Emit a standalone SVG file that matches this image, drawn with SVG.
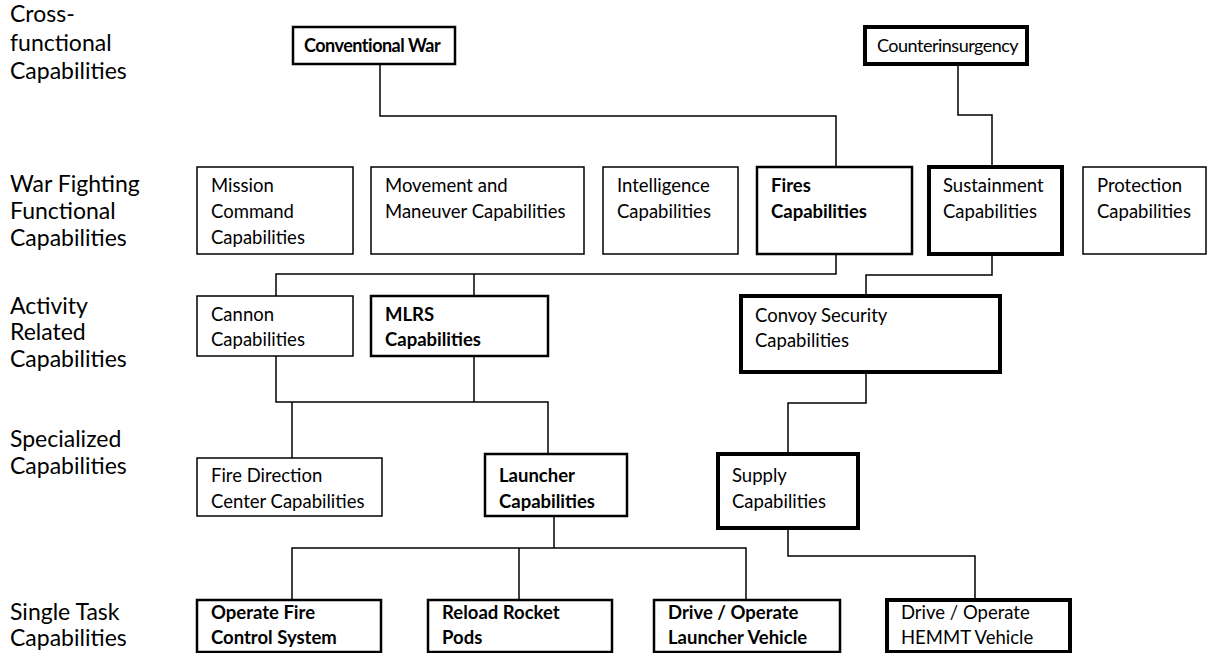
<svg xmlns="http://www.w3.org/2000/svg" width="1210" height="653" viewBox="0 0 1210 653">
  <style>
    .lbl { font-family: Lato, "Open Sans", sans-serif; font-size: 23px; fill: #000; }
    .t { font-family: Lato, "Open Sans", sans-serif; font-size: 18.5px; fill: #000; }
    .top { font-size: 18px; letter-spacing: -0.5px; }
    .b { font-weight: bold; }
    .box { fill: #fff; stroke: #000; }
    .thin { stroke-width: 1.5; }
    .mid { stroke-width: 2.5; }
    .heavy { stroke-width: 4; }
    .conn { fill: none; stroke: #000; stroke-width: 1.5; }
  </style>
  <rect width="1210" height="653" fill="#fff"/>

  <!-- level labels -->
  <g id="levels">
    <text class="lbl" x="10" y="22">Cross-</text>
    <text class="lbl" x="10" y="51">functional</text>
    <text class="lbl" x="10" y="79">Capabilities</text>
    <text class="lbl" x="10" y="192">War Fighting</text>
    <text class="lbl" x="10" y="219">Functional</text>
    <text class="lbl" x="10" y="246">Capabilities</text>
    <text class="lbl" x="10" y="314">Activity</text>
    <text class="lbl" x="10" y="340">Related</text>
    <text class="lbl" x="10" y="367">Capabilities</text>
    <text class="lbl" x="10" y="447">Specialized</text>
    <text class="lbl" x="10" y="474">Capabilities</text>
    <text class="lbl" x="10" y="620">Single Task</text>
    <text class="lbl" x="10" y="646">Capabilities</text>
  </g>

  <!-- connectors -->
  <g id="connectors">
    <polyline class="conn" points="380,64 380,116 836,116 836,167"/>
    <polyline class="conn" points="958,64 958,115 992,115 992,167"/>
    <polyline class="conn" points="836,254 836,274 276,274 276,296"/>
    <line class="conn" x1="474" y1="274" x2="474" y2="296"/>
    <polyline class="conn" points="992,254 992,275 866,275 866,296"/>
    <polyline class="conn" points="276,356 276,402 548,402 548,454"/>
    <line class="conn" x1="474" y1="356" x2="474" y2="402"/>
    <line class="conn" x1="292" y1="402" x2="292" y2="458"/>
    <polyline class="conn" points="866,372 866,403 788,403 788,454"/>
    <line class="conn" x1="554" y1="516" x2="554" y2="548" stroke-width="2.5"/>
    <polyline class="conn" points="292,600 292,548 746,548 746,600"/>
    <line class="conn" x1="519" y1="548" x2="519" y2="600"/>
    <polyline class="conn" points="788,528 788,556 975,556 975,600"/>
  </g>

  <g id="conventional-war">
    <rect class="box mid" x="293" y="27" width="162" height="37"/>
    <text class="t top b" x="304" y="52">Conventional War</text>
  </g>
  <g id="counterinsurgency">
    <rect class="box heavy" x="865" y="27" width="162" height="37"/>
    <text class="t top" x="877" y="52">Counterinsurgency</text>
  </g>

  <g id="mission-command">
    <rect class="box thin" x="197" y="167" width="156" height="87"/>
    <text class="t" x="211" y="192">Mission</text>
    <text class="t" x="211" y="218">Command</text>
    <text class="t" x="211" y="244">Capabilities</text>
  </g>
  <g id="movement-maneuver">
    <rect class="box thin" x="371" y="167" width="213" height="87"/>
    <text class="t" x="385" y="192">Movement and</text>
    <text class="t" x="385" y="218">Maneuver Capabilities</text>
  </g>
  <g id="intelligence">
    <rect class="box thin" x="603" y="167" width="135" height="87"/>
    <text class="t" x="617" y="192">Intelligence</text>
    <text class="t" x="617" y="218">Capabilities</text>
  </g>
  <g id="fires">
    <rect class="box mid" x="757" y="167" width="155" height="87"/>
    <text class="t b" x="771" y="192">Fires</text>
    <text class="t b" x="771" y="218">Capabilities</text>
  </g>
  <g id="sustainment">
    <rect class="box heavy" x="929" y="167" width="133" height="87"/>
    <text class="t" x="943" y="192">Sustainment</text>
    <text class="t" x="943" y="218">Capabilities</text>
  </g>
  <g id="protection">
    <rect class="box thin" x="1083" y="167" width="123" height="87"/>
    <text class="t" x="1097" y="192">Protection</text>
    <text class="t" x="1097" y="218">Capabilities</text>
  </g>

  <g id="cannon">
    <rect class="box thin" x="197" y="296" width="156" height="60"/>
    <text class="t" x="211" y="321">Cannon</text>
    <text class="t" x="211" y="346">Capabilities</text>
  </g>
  <g id="mlrs">
    <rect class="box mid" x="371" y="296" width="177" height="60"/>
    <text class="t b" x="385" y="321">MLRS</text>
    <text class="t b" x="385" y="346">Capabilities</text>
  </g>
  <g id="convoy-security">
    <rect class="box heavy" x="741" y="296" width="259" height="76"/>
    <text class="t" x="755" y="322">Convoy Security</text>
    <text class="t" x="755" y="347">Capabilities</text>
  </g>

  <g id="fire-direction">
    <rect class="box thin" x="197" y="458" width="185" height="58"/>
    <text class="t" x="211" y="482">Fire Direction</text>
    <text class="t" x="211" y="508">Center Capabilities</text>
  </g>
  <g id="launcher">
    <rect class="box mid" x="485" y="454" width="142" height="62"/>
    <text class="t b" x="499" y="482">Launcher</text>
    <text class="t b" x="499" y="508">Capabilities</text>
  </g>
  <g id="supply">
    <rect class="box heavy" x="718" y="454" width="140" height="74"/>
    <text class="t" x="732" y="482">Supply</text>
    <text class="t" x="732" y="508">Capabilities</text>
  </g>

  <g id="operate-fire-control">
    <rect class="box mid" x="197" y="600" width="184" height="52"/>
    <text class="t b" x="211" y="619">Operate Fire</text>
    <text class="t b" x="211" y="644">Control System</text>
  </g>
  <g id="reload-rocket-pods">
    <rect class="box mid" x="428" y="600" width="184" height="52"/>
    <text class="t b" x="442" y="619">Reload Rocket</text>
    <text class="t b" x="442" y="644">Pods</text>
  </g>
  <g id="drive-launcher">
    <rect class="box mid" x="654" y="600" width="186" height="52"/>
    <text class="t b" x="668" y="619">Drive / Operate</text>
    <text class="t b" x="668" y="644">Launcher Vehicle</text>
  </g>
  <g id="drive-hemmt">
    <rect class="box heavy" x="887" y="600" width="183" height="52"/>
    <text class="t" x="901" y="619">Drive / Operate</text>
    <text class="t" x="901" y="644">HEMMT Vehicle</text>
  </g>
</svg>
